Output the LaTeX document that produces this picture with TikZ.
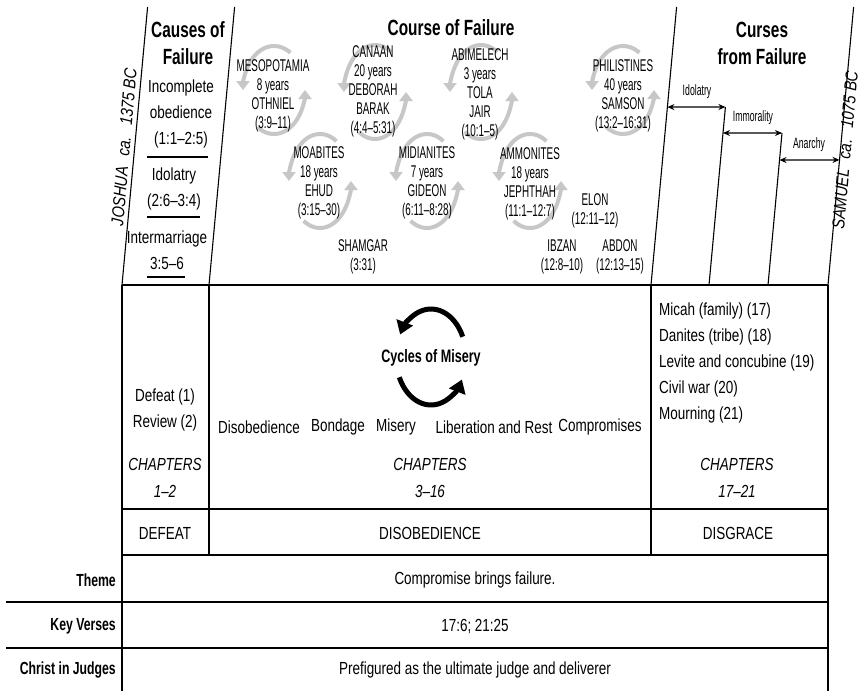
\documentclass[tikz,border=0pt]{standalone}
\usepackage{fontspec}
\setmainfont{Liberation Sans}
\newfontfamily\narrowfont[FakeStretch=0.77,Ligatures=TeX]{Liberation Sans}
\newfontfamily\tightfont[FakeStretch=0.58,Ligatures=TeX]{Liberation Sans}
\newfontfamily\titlefont[FakeStretch=0.70,Ligatures=TeX]{Liberation Sans}
\newfontfamily\erafont[FakeStretch=0.84,Ligatures=TeX]{Liberation Sans}
\usetikzlibrary{arrows.meta,positioning,calc}

\begin{document}
\begin{tikzpicture}[x=1pt,y=1pt,>={Stealth[length=7pt,width=6pt]},
                    body/.style={font=\narrowfont\fontsize{17.5}{26}\selectfont,inner sep=0pt,align=center},
                    chap/.style={font=\narrowfont\itshape\fontsize{17.5}{27}\selectfont,inner sep=0pt,align=center},
                    cyctext/.style={font=\tightfont\fontsize{17}{19}\selectfont,inner sep=0pt,align=center},
                    heading/.style={font=\titlefont\bfseries\fontsize{22}{27}\selectfont,inner sep=0pt,align=center},
                    curse/.style={font=\tightfont\fontsize{15}{16}\selectfont,inner sep=0pt},
                    rowlabel/.style={font=\titlefont\bfseries\fontsize{17.5}{20}\selectfont,inner sep=0pt,anchor=east},
                    era/.style={font=\erafont\itshape\fontsize{17.5}{20}\selectfont,inner sep=0pt,rotate=85},
                    grayloop/.style={draw=black!22,line width=4pt,-{Triangle[width=13pt,length=9pt]}},
                    blackloop/.style={draw=black,line width=5pt,-{Triangle[width=17pt,length=13pt]}},
                    rule/.style={line width=1.1pt}]

                    \fill[white] (0,0) rectangle (861,-691);
                    \useasboundingbox (0,0) rectangle (861,-691);

                    % slanted column lines
                    \coordinate (l1b) at (122,-285);
                    \coordinate (l1t) at (147.6,-7);
                    \coordinate (l2b) at (209,-285);
                    \coordinate (l2t) at (234.6,-7);
                    \coordinate (l3b) at (651,-285);
                    \coordinate (l3t) at (676.6,-7);
                    \coordinate (l4b) at (709,-285);
                    \coordinate (l4t) at (725.4,-107);
                    \coordinate (l5b) at (768,-285);
                    \coordinate (l5t) at (782,-133);
                    \coordinate (l6b) at (828,-285);
                    \coordinate (l6t) at (853.6,-7);

                    \draw[rule] (l1b) -- (l1t);
                    \draw[rule] (l2b) -- (l2t);
                    \draw[rule] (l3b) -- (l3t);
                    \draw[rule] (l4b) -- (l4t);
                    \draw[rule] (l5b) -- (l5t);
                    \draw[rule] (l6b) -- (l6t);

                    % table
                    \draw[line width=2.4pt] (l1b) -- (l6b);
                    \draw[rule] (l1b) -- (122,-691);
                    \draw[rule] (l6b) -- (828,-691);
                    \draw[rule] (l2b) -- (209,-555);
                    \draw[rule] (l3b) -- (651,-555);
                    \draw[rule] (122,-509) -- (828,-509);
                    \draw[rule] (122,-555) -- (828,-555);
                    \draw[rule] (6,-602) -- (828,-602);
                    \draw[rule] (6,-648) -- (828,-648);

                    % eras
                    \node[era] (joshua) at (124,-147) {JOSHUA\hspace{6pt} ca.\hspace{6pt} 1375 BC};
                    \node[era] (samuel) at (845,-150) {SAMUEL\hspace{6pt} ca.\hspace{6pt} 1075 BC};

                    % headings
                    \node[heading] (causes) at (188,-43) {Causes of\\Failure};
                    \node[heading] (course) at (451,-28) {Course of Failure};
                    \node[heading] (curses) at (762,-43) {Curses\\from Failure};

                    % causes of failure
                    \node[body] (cause1) at (181,-114) {Incomplete\\obedience\\(1:1–2:5)};
                    \node[body] (cause2) at (174,-189) {Idolatry\\(2:6–3:4)};
                    \node[body] (cause3) at (167,-250) {Intermarriage\\3:5–6};
                    \draw[rule] (147,-157) -- (208,-157);
                    \draw[rule] (147,-217) -- (200,-217);
                    \draw[rule] (147,-277) -- (185,-277);

                    % cycles
                    \coordinate (mesoc) at (274,-90);
                    \coordinate (canac) at (375,-92);
                    \coordinate (abimc) at (481,-92);
                    \coordinate (philc) at (623,-90);
                    \coordinate (moabc) at (320,-181);
                    \coordinate (midic) at (427,-181);
                    \coordinate (ammoc) at (530,-181);

                    \draw[grayloop] (mesoc) ++(58:31 and 44) arc[start angle=58,end angle=180,x radius=31,y radius=44];
                    \draw[grayloop] (mesoc) ++(238:31 and 44) arc[start angle=238,end angle=360,x radius=31,y radius=44];

                    \draw[grayloop] (canac) ++(58:31 and 47) arc[start angle=58,end angle=180,x radius=31,y radius=47];
                    \draw[grayloop] (canac) ++(238:31 and 47) arc[start angle=238,end angle=360,x radius=31,y radius=47];

                    \draw[grayloop] (abimc) ++(58:31 and 47) arc[start angle=58,end angle=180,x radius=31,y radius=47];
                    \draw[grayloop] (abimc) ++(238:31 and 47) arc[start angle=238,end angle=360,x radius=31,y radius=47];

                    \draw[grayloop] (philc) ++(58:31 and 44) arc[start angle=58,end angle=180,x radius=31,y radius=44];
                    \draw[grayloop] (philc) ++(238:31 and 44) arc[start angle=238,end angle=360,x radius=31,y radius=44];

                    \draw[grayloop] (moabc) ++(58:31 and 47) arc[start angle=58,end angle=180,x radius=31,y radius=47];
                    \draw[grayloop] (moabc) ++(238:31 and 47) arc[start angle=238,end angle=360,x radius=31,y radius=47];

                    \draw[grayloop] (midic) ++(58:31 and 47) arc[start angle=58,end angle=180,x radius=31,y radius=47];
                    \draw[grayloop] (midic) ++(238:31 and 47) arc[start angle=238,end angle=360,x radius=31,y radius=47];

                    \draw[grayloop] (ammoc) ++(58:31 and 47) arc[start angle=58,end angle=180,x radius=31,y radius=47];
                    \draw[grayloop] (ammoc) ++(238:31 and 47) arc[start angle=238,end angle=360,x radius=31,y radius=47];

                    \node[cyctext] (meso) at (273,-96) {MESOPOTAMIA\\8 years\\OTHNIEL\\(3:9–11)};
                    \node[cyctext] (cana) at (373,-91) {CANAAN\\20 years\\DEBORAH\\BARAK\\(4:4–5:31)};
                    \node[cyctext] (abim) at (480,-94) {ABIMELECH\\3 years\\TOLA\\JAIR\\(10:1–5)};
                    \node[cyctext] (phil) at (623,-96) {PHILISTINES\\40 years\\SAMSON\\(13:2–16:31)};
                    \node[cyctext] (moab) at (319,-183) {MOABITES\\18 years\\EHUD\\(3:15–30)};
                    \node[cyctext] (midi) at (427,-183) {MIDIANITES\\7 years\\GIDEON\\(6:11–8:28)};
                    \node[cyctext] (ammo) at (530,-184) {AMMONITES\\18 years\\JEPHTHAH\\(11:1–12:7)};

                    \node[cyctext] (shamgar) at (363,-257) {SHAMGAR\\(3:31)};
                    \node[cyctext] (elon) at (595,-211) {ELON\\(12:11–12)};
                    \node[cyctext] (ibzan) at (562,-257) {IBZAN\\(12:8–10)};
                    \node[cyctext] (abdon) at (620,-257) {ABDON\\(12:13–15)};

                    % curses from failure
                    \coordinate (idoll) at ($(l3b)!0.640!(l3t)$);
                    \coordinate (imml) at ($(l4b)!0.854!(l4t)$);
                    \coordinate (anal) at ($(l5b)!0.822!(l5t)$);
                    \coordinate (anar) at ($(l6b)!0.450!(l6t)$);

                    \draw[<->,line width=1.2pt] (idoll) -- (l4t);
                    \draw[<->,line width=1.2pt] (imml) -- (l5t);
                    \draw[<->,line width=1.2pt] (anal) -- (anar);

                    \node[curse] (idol) at (697,-92) {Idolatry};
                    \node[curse] (immo) at (753,-118) {Immorality};
                    \node[curse] (anarchy) at (809,-145) {Anarchy};

                    % middle row
                    \node[body] (defeat) at (165,-410) {Defeat (1)\\Review (2)};
                    \node[chap] (chap1) at (165,-478) {CHAPTERS\\1–2};

                    \coordinate (miseryc) at (431,-357);
                    \draw[blackloop] (miseryc) ++(25:35 and 48) arc[start angle=25,end angle=152,x radius=35,y radius=48];
                    \draw[blackloop] (miseryc) ++(205:35 and 48) arc[start angle=205,end angle=332,x radius=35,y radius=48];
                    \node[heading,font=\titlefont\bfseries\fontsize{18}{20}\selectfont] (misery) at (431,-358) {Cycles of Misery};

                    \node[body] (w1) at (259,-427) {Disobedience};
                    \node[body] (w2) at (338,-427) {Bondage};
                    \node[body] (w3) at (396,-427) {Misery};
                    \node[body] (w4) at (494,-427) {Liberation and Rest};
                    \node[body] (w5) at (600,-427) {Compromises};
                    \node[chap] (chap2) at (430,-478) {CHAPTERS\\3–16};

                    \node[body,align=left,anchor=west] (list) at (659,-363) {Micah (family) (17)\\Danites (tribe) (18)\\Levite and concubine (19)\\Civil war (20)\\Mourning (21)};
                    \node[chap] (chap3) at (737,-478) {CHAPTERS\\17–21};

                    \node[body] (d1) at (165,-533) {DEFEAT};
                    \node[body] (d2) at (430,-533) {DISOBEDIENCE};
                    \node[body] (d3) at (738,-533) {DISGRACE};

                    % bottom rows
                    \node[rowlabel] (theme) at (116,-580) {Theme};
                    \node[rowlabel] (keyv) at (116,-626) {Key Verses};
                    \node[rowlabel] (christ) at (116,-670) {Christ in Judges};

                    \node[body] (themet) at (475,-580) {Compromise brings failure.};
                    \node[body] (keyvt) at (475,-626) {17:6; 21:25};
                    \node[body] (christt) at (475,-670) {Prefigured as the ultimate judge and deliverer};

                \end{tikzpicture}
\end{document}
